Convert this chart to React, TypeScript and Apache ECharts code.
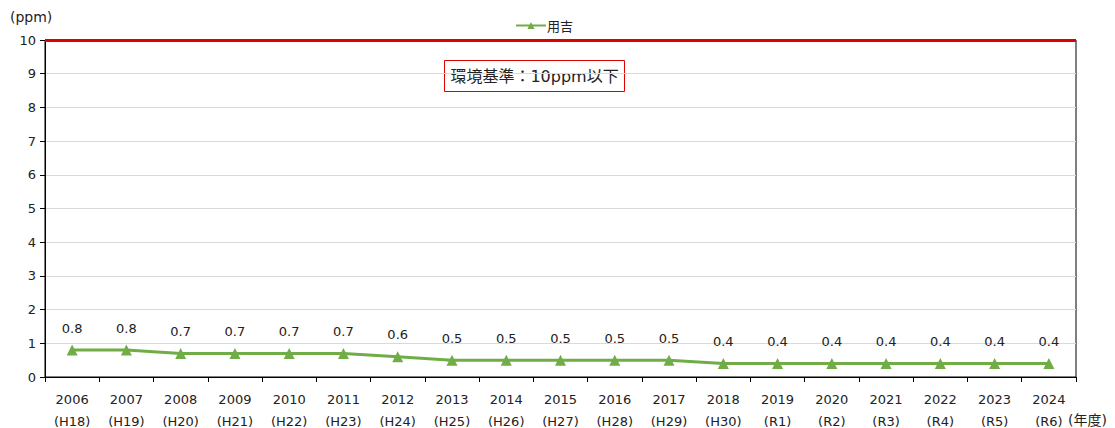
import React, { useEffect, useRef } from "react";
import * as echarts from "echarts";

const years = ["2006","2007","2008","2009","2010","2011","2012","2013","2014","2015","2016","2017","2018","2019","2020","2021","2022","2023","2024"];
const eras = ["H18","H19","H20","H21","H22","H23","H24","H25","H26","H27","H28","H29","H30","R1","R2","R3","R4","R5","R6"];
const values = [0.8,0.8,0.7,0.7,0.7,0.7,0.6,0.5,0.5,0.5,0.5,0.5,0.4,0.4,0.4,0.4,0.4,0.4,0.4];
const seriesName = "用吉";
const standardValue = 10;
const standardLabel = "環境基準：10ppm以下";
const yTicks = [0,1,2,3,4,5,6,7,8,9,10];

const FONT = "'DejaVu Sans', 'Noto Sans CJK JP', sans-serif";
const CJK = "'Noto Sans CJK JP', 'DejaVu Sans', sans-serif";

export default function App() {
  const ref = useRef<HTMLDivElement>(null);
  useEffect(() => {
    if (!ref.current) return;
    const chart = echarts.init(ref.current, null, { renderer: "svg" });
    const categories = years.map((y, i) => `${y}\n(${eras[i]})`);
    chart.setOption({
      animation: false,
      backgroundColor: "#fff",
      textStyle: { fontFamily: FONT },
      legend: {
        top: 14,
        left: 510,
        itemWidth: 30,
        itemHeight: 9,
        itemGap: 0,
        textStyle: { fontFamily: CJK, fontSize: 13, color: "#222", padding: [0, 0, 0, -4] },
        data: [seriesName],
      },
      grid: {
        left: 45, right: 39, top: 40, bottom: 51,
        outerBoundsMode: "none",
        containLabel: false,
        show: true, borderColor: "#000", borderWidth: 1, backgroundColor: "transparent",
      },
      xAxis: {
        type: "category",
        data: categories,
        boundaryGap: true,
        axisLine: { lineStyle: { color: "#000", width: 1 } },
        axisTick: { show: true, length: 5, lineStyle: { color: "#000" } },
        axisLabel: { color: "#222", fontSize: 13, lineHeight: 22, margin: 11, fontFamily: FONT, interval: 0 },
      },
      yAxis: {
        type: "value",
        min: 0, max: 10, interval: 1,
        axisLine: { show: true, lineStyle: { color: "#000", width: 1 } },
        axisTick: { show: true, length: 5, lineStyle: { color: "#000" } },
        axisLabel: {
          color: "#222", fontSize: 13, margin: 9, fontFamily: FONT,
          formatter: (v: number) => (yTicks.includes(v) ? String(v) : ""),
        },
        splitLine: { lineStyle: { color: "#d9d9d9", width: 1 } },
      },
      series: [
        {
          name: seriesName,
          type: "line",
          data: values,
          symbol: "triangle",
          symbolSize: 11,
          lineStyle: { color: "#70AD47", width: 3 },
          itemStyle: { color: "#70AD47" },
          label: {
            show: true, position: "top", distance: 10, fontSize: 13, color: "#222", fontFamily: FONT,
            formatter: (p: any) => Number(p.value).toFixed(1),
          },
          markLine: {
            silent: true,
            symbol: "none",
            label: { show: false },
            lineStyle: { color: "#E00000", width: 3, type: "solid" },
            data: [{ yAxis: standardValue }],
          },
          z: 3,
        },
      ],
      graphic: [
        {
          type: "text", left: 10, top: 10,
          style: { text: "(ppm)", font: `14px ${FONT}`, fill: "#222" },
        },
        {
          type: "text", left: 1068, top: 413,
          style: { text: "(年度)", font: `14px ${FONT}`, fill: "#222" },
        },
        {
          type: "group", left: 444, top: 60,
          children: [
            { type: "rect", shape: { x: 0, y: 0, width: 180, height: 31 }, style: { fill: "#fff", stroke: "#E00000", lineWidth: 1 } },
            { type: "text", x: 90, y: 16, style: { text: standardLabel, font: `16px ${FONT}`, fill: "#222", align: "center", verticalAlign: "middle" } },
          ],
        },
      ],
    });
    return () => chart.dispose();
  }, []);
  return <div ref={ref} style={{ width: 1115, height: 428, position: "absolute", left: 0, top: 0 }} />;
}
